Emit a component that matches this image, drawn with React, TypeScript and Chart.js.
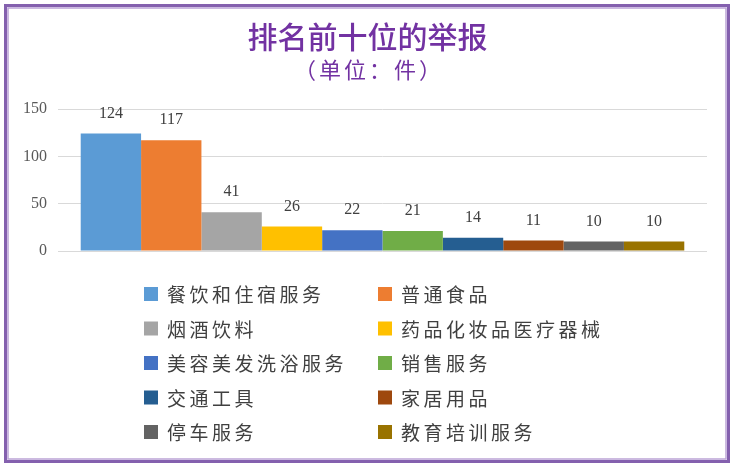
import React, { useEffect, useRef } from "react";
import { Chart, registerables } from "chart.js";

Chart.register(...registerables);

const categories: string[] = [
  "餐饮和住宿服务",
  "普通食品",
  "烟酒饮料",
  "药品化妆品医疗器械",
  "美容美发洗浴服务",
  "销售服务",
  "交通工具",
  "家居用品",
  "停车服务",
  "教育培训服务",
];
const counts: number[] = [124, 117, 41, 26, 22, 21, 14, 11, 10, 10];
const colors: string[] = [
  "#5B9BD5",
  "#ED7D31",
  "#A5A5A5",
  "#FFC000",
  "#4472C4",
  "#70AD47",
  "#255E91",
  "#9E480E",
  "#636363",
  "#997300",
];
const yTicks: number[] = [0, 50, 100, 150];

const titleText = "排名前十位的举报";
const subtitleText = "（单位：件）";
const PURPLE = "#7232A2";
const CJK = "'Noto Sans CJK SC', 'Noto Sans', sans-serif";
const SERIF = "'Liberation Serif', 'DejaVu Serif', serif";

// Purple double frame around the whole card
const framePlugin = {
  id: "frame",
  beforeDraw(chart: any) {
    const ctx = chart.ctx;
    const w = chart.width;
    const h = chart.height;
    ctx.save();
    ctx.fillStyle = "#ffffff";
    ctx.fillRect(0, 0, w, h);
    ctx.strokeStyle = "#8460AE";
    ctx.lineWidth = 3;
    ctx.strokeRect(5.5, 5.5, w - 12, h - 10);
    ctx.strokeStyle = "#BBA3D6";
    ctx.lineWidth = 1.5;
    ctx.strokeRect(8, 8, w - 17, h - 15);
    ctx.restore();
  },
};

// Heading and unit line, centred on the card
const headingPlugin = {
  id: "heading",
  afterDraw(chart: any) {
    const ctx = chart.ctx;
    const cx = chart.width / 2;
    ctx.save();
    ctx.fillStyle = PURPLE;
    ctx.textAlign = "center";
    ctx.textBaseline = "middle";
    ctx.font = `500 30px ${CJK}`;
    ctx.fillText(titleText, cx, 37);
    ctx.font = `22px ${CJK}`;
    (ctx as any).letterSpacing = "3px";
    ctx.fillText(subtitleText, cx + 1.5, 70);
    ctx.restore();
  },
};

// Value labels above each bar
const valueLabelPlugin = {
  id: "valueLabels",
  afterDatasetsDraw(chart: any) {
    const ctx = chart.ctx;
    ctx.save();
    ctx.font = `16px ${SERIF}`;
    ctx.fillStyle = "#404040";
    ctx.textAlign = "center";
    ctx.textBaseline = "middle";
    chart.data.datasets.forEach((ds: any, i: number) => {
      const meta = chart.getDatasetMeta(i);
      const bar = meta.data[0];
      if (!bar) return;
      ctx.fillText(String(ds.data[0]), bar.x, bar.y - 20);
    });
    ctx.restore();
  },
};

// Two-column legend under the plot
const gridLegendPlugin = {
  id: "gridLegend",
  afterDraw(chart: any) {
    const ctx = chart.ctx;
    ctx.save();
    ctx.font = `19px ${CJK}`;
    (ctx as any).letterSpacing = "3.5px";
    ctx.textAlign = "left";
    ctx.textBaseline = "middle";
    const colX = [144, 378];
    const rowY0 = 294;
    const rowGap = 34.5;
    chart.data.datasets.forEach((ds: any, i: number) => {
      const col = i % 2;
      const row = Math.floor(i / 2);
      const x = colX[col];
      const y = rowY0 + row * rowGap;
      ctx.fillStyle = ds.backgroundColor;
      ctx.fillRect(x, y - 7, 14, 14);
      ctx.fillStyle = "#404040";
      ctx.fillText(ds.label, x + 23, y + 1);
    });
    ctx.restore();
  },
};

export default function App() {
  const canvasRef = useRef<HTMLCanvasElement | null>(null);

  useEffect(() => {
    if (!canvasRef.current) return;
    const chart = new Chart(canvasRef.current, {
      type: "bar",
      data: {
        labels: [""],
        datasets: categories.map((name, i) => ({
          label: name,
          data: [counts[i]],
          backgroundColor: colors[i],
          borderWidth: 0,
          categoryPercentage: 0.93,
          barPercentage: 1,
        })),
      },
      options: {
        animation: false,
        responsive: true,
        maintainAspectRatio: false,
        layout: { padding: { top: 109, left: 0, right: 28, bottom: 215 } },
        plugins: {
          legend: { display: false },
          tooltip: { enabled: false },
          title: { display: false },
        },
        scales: {
          x: { display: false },
          y: {
            min: 0,
            max: 150,
            afterBuildTicks: (scale: any) => {
              scale.ticks = yTicks.map((v) => ({ value: v }));
            },
            afterFit: (scale: any) => {
              scale.width = 58;
            },
            border: { display: false },
            grid: { color: "#D9D9D9", drawTicks: false, lineWidth: 1 },
            ticks: {
              padding: 11,
              color: "#595959",
              font: { family: SERIF, size: 16 },
            },
          },
        },
      },
      plugins: [framePlugin, valueLabelPlugin, gridLegendPlugin, headingPlugin],
    });
    return () => chart.destroy();
  }, []);

  return (
    <div style={{ position: "fixed", left: 0, top: 0, width: 735, height: 466 }}>
      <canvas ref={canvasRef} />
    </div>
  );
}
